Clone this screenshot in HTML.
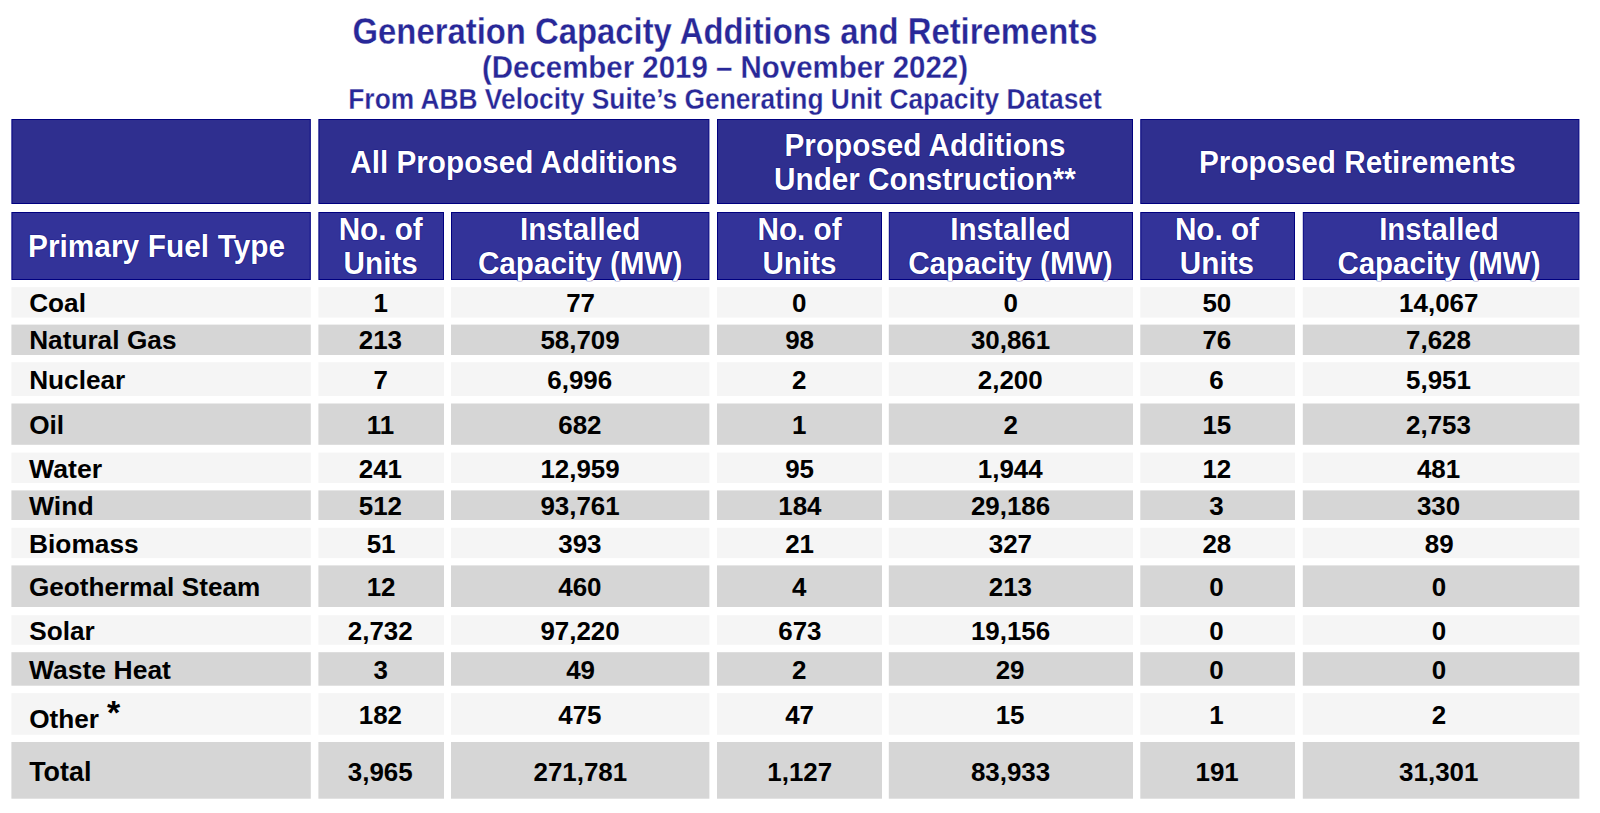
<!DOCTYPE html>
<html lang="en">
<head>
<meta charset="utf-8">
<title>Generation Capacity Additions and Retirements</title>
<style>
html,body{margin:0;padding:0;background:#fff;}
body{width:1600px;height:813px;position:relative;overflow:hidden;font-family:"Liberation Sans",sans-serif;font-weight:bold;}
#bg{position:absolute;left:0;top:0;width:1600px;height:813px;}
.t{position:absolute;left:0;width:1450px;text-align:center;color:#282898;white-space:nowrap;line-height:1;}
.t span{display:inline-block;transform-origin:50% 0;-webkit-text-stroke:0.25px #fff;}
.c{position:absolute;display:flex;align-items:center;justify-content:center;text-align:center;box-sizing:border-box;white-space:nowrap;}
.c span{display:inline-block;}
.h{color:#fff;font-size:29.7px;line-height:33.4px;text-shadow:0 0 1px #000080,0 0 1px #000080;}
.d{color:#000;font-size:26.2px;line-height:1;}
.l{justify-content:flex-start;padding-left:17.8px;}
.l span{transform-origin:left center;word-spacing:0.3px;}
.h.l{padding-left:16.6px;}
.st{font-size:34px;line-height:0;margin-left:8px;font-weight:bold;position:relative;top:-4px;}
</style>
</head>
<body>

<svg id="bg" width="1600" height="813" viewBox="0 0 1600 813">
<rect x="11.9" y="119.5" width="298.4" height="84" fill="#2f2f8f" stroke="#000080" stroke-width="1"/>
<rect x="318.9" y="119.5" width="390.0" height="84" fill="#2f2f8f" stroke="#000080" stroke-width="1"/>
<rect x="717.5" y="119.5" width="415" height="84" fill="#2f2f8f" stroke="#000080" stroke-width="1"/>
<rect x="1140.8" y="119.5" width="438.1" height="84" fill="#2f2f8f" stroke="#000080" stroke-width="1"/>
<rect x="11.9" y="212.5" width="298.4" height="67" fill="#333399" stroke="#000080" stroke-width="1"/>
<rect x="318.9" y="212.5" width="124.6" height="67" fill="#333399" stroke="#000080" stroke-width="1"/>
<rect x="451.5" y="212.5" width="257.4" height="67" fill="#333399" stroke="#000080" stroke-width="1"/>
<rect x="717.5" y="212.5" width="164" height="67" fill="#333399" stroke="#000080" stroke-width="1"/>
<rect x="889.3" y="212.5" width="243.2" height="67" fill="#333399" stroke="#000080" stroke-width="1"/>
<rect x="1140.8" y="212.5" width="153.7" height="67" fill="#333399" stroke="#000080" stroke-width="1"/>
<rect x="1303.3" y="212.5" width="275.6" height="67" fill="#333399" stroke="#000080" stroke-width="1"/>
<rect x="11.4" y="287.1" width="299.4" height="30.5" fill="#f5f5f5"/>
<rect x="318.4" y="287.1" width="125.6" height="30.5" fill="#f5f5f5"/>
<rect x="451" y="287.1" width="258.4" height="30.5" fill="#f5f5f5"/>
<rect x="717" y="287.1" width="165" height="30.5" fill="#f5f5f5"/>
<rect x="888.8" y="287.1" width="244.2" height="30.5" fill="#f5f5f5"/>
<rect x="1140.3" y="287.1" width="154.7" height="30.5" fill="#f5f5f5"/>
<rect x="1302.8" y="287.1" width="276.6" height="30.5" fill="#f5f5f5"/>
<rect x="11.4" y="324.6" width="299.4" height="30.4" fill="#d6d6d6"/>
<rect x="318.4" y="324.6" width="125.6" height="30.4" fill="#d6d6d6"/>
<rect x="451" y="324.6" width="258.4" height="30.4" fill="#d6d6d6"/>
<rect x="717" y="324.6" width="165" height="30.4" fill="#d6d6d6"/>
<rect x="888.8" y="324.6" width="244.2" height="30.4" fill="#d6d6d6"/>
<rect x="1140.3" y="324.6" width="154.7" height="30.4" fill="#d6d6d6"/>
<rect x="1302.8" y="324.6" width="276.6" height="30.4" fill="#d6d6d6"/>
<rect x="11.4" y="362.2" width="299.4" height="33.8" fill="#f5f5f5"/>
<rect x="318.4" y="362.2" width="125.6" height="33.8" fill="#f5f5f5"/>
<rect x="451" y="362.2" width="258.4" height="33.8" fill="#f5f5f5"/>
<rect x="717" y="362.2" width="165" height="33.8" fill="#f5f5f5"/>
<rect x="888.8" y="362.2" width="244.2" height="33.8" fill="#f5f5f5"/>
<rect x="1140.3" y="362.2" width="154.7" height="33.8" fill="#f5f5f5"/>
<rect x="1302.8" y="362.2" width="276.6" height="33.8" fill="#f5f5f5"/>
<rect x="11.4" y="403.5" width="299.4" height="41.3" fill="#d6d6d6"/>
<rect x="318.4" y="403.5" width="125.6" height="41.3" fill="#d6d6d6"/>
<rect x="451" y="403.5" width="258.4" height="41.3" fill="#d6d6d6"/>
<rect x="717" y="403.5" width="165" height="41.3" fill="#d6d6d6"/>
<rect x="888.8" y="403.5" width="244.2" height="41.3" fill="#d6d6d6"/>
<rect x="1140.3" y="403.5" width="154.7" height="41.3" fill="#d6d6d6"/>
<rect x="1302.8" y="403.5" width="276.6" height="41.3" fill="#d6d6d6"/>
<rect x="11.4" y="452.6" width="299.4" height="30.4" fill="#f5f5f5"/>
<rect x="318.4" y="452.6" width="125.6" height="30.4" fill="#f5f5f5"/>
<rect x="451" y="452.6" width="258.4" height="30.4" fill="#f5f5f5"/>
<rect x="717" y="452.6" width="165" height="30.4" fill="#f5f5f5"/>
<rect x="888.8" y="452.6" width="244.2" height="30.4" fill="#f5f5f5"/>
<rect x="1140.3" y="452.6" width="154.7" height="30.4" fill="#f5f5f5"/>
<rect x="1302.8" y="452.6" width="276.6" height="30.4" fill="#f5f5f5"/>
<rect x="11.4" y="490.4" width="299.4" height="29.6" fill="#d6d6d6"/>
<rect x="318.4" y="490.4" width="125.6" height="29.6" fill="#d6d6d6"/>
<rect x="451" y="490.4" width="258.4" height="29.6" fill="#d6d6d6"/>
<rect x="717" y="490.4" width="165" height="29.6" fill="#d6d6d6"/>
<rect x="888.8" y="490.4" width="244.2" height="29.6" fill="#d6d6d6"/>
<rect x="1140.3" y="490.4" width="154.7" height="29.6" fill="#d6d6d6"/>
<rect x="1302.8" y="490.4" width="276.6" height="29.6" fill="#d6d6d6"/>
<rect x="11.4" y="527.8" width="299.4" height="30.3" fill="#f5f5f5"/>
<rect x="318.4" y="527.8" width="125.6" height="30.3" fill="#f5f5f5"/>
<rect x="451" y="527.8" width="258.4" height="30.3" fill="#f5f5f5"/>
<rect x="717" y="527.8" width="165" height="30.3" fill="#f5f5f5"/>
<rect x="888.8" y="527.8" width="244.2" height="30.3" fill="#f5f5f5"/>
<rect x="1140.3" y="527.8" width="154.7" height="30.3" fill="#f5f5f5"/>
<rect x="1302.8" y="527.8" width="276.6" height="30.3" fill="#f5f5f5"/>
<rect x="11.4" y="565.4" width="299.4" height="41.6" fill="#d6d6d6"/>
<rect x="318.4" y="565.4" width="125.6" height="41.6" fill="#d6d6d6"/>
<rect x="451" y="565.4" width="258.4" height="41.6" fill="#d6d6d6"/>
<rect x="717" y="565.4" width="165" height="41.6" fill="#d6d6d6"/>
<rect x="888.8" y="565.4" width="244.2" height="41.6" fill="#d6d6d6"/>
<rect x="1140.3" y="565.4" width="154.7" height="41.6" fill="#d6d6d6"/>
<rect x="1302.8" y="565.4" width="276.6" height="41.6" fill="#d6d6d6"/>
<rect x="11.4" y="615.2" width="299.4" height="29.6" fill="#f5f5f5"/>
<rect x="318.4" y="615.2" width="125.6" height="29.6" fill="#f5f5f5"/>
<rect x="451" y="615.2" width="258.4" height="29.6" fill="#f5f5f5"/>
<rect x="717" y="615.2" width="165" height="29.6" fill="#f5f5f5"/>
<rect x="888.8" y="615.2" width="244.2" height="29.6" fill="#f5f5f5"/>
<rect x="1140.3" y="615.2" width="154.7" height="29.6" fill="#f5f5f5"/>
<rect x="1302.8" y="615.2" width="276.6" height="29.6" fill="#f5f5f5"/>
<rect x="11.4" y="652.2" width="299.4" height="33.5" fill="#d6d6d6"/>
<rect x="318.4" y="652.2" width="125.6" height="33.5" fill="#d6d6d6"/>
<rect x="451" y="652.2" width="258.4" height="33.5" fill="#d6d6d6"/>
<rect x="717" y="652.2" width="165" height="33.5" fill="#d6d6d6"/>
<rect x="888.8" y="652.2" width="244.2" height="33.5" fill="#d6d6d6"/>
<rect x="1140.3" y="652.2" width="154.7" height="33.5" fill="#d6d6d6"/>
<rect x="1302.8" y="652.2" width="276.6" height="33.5" fill="#d6d6d6"/>
<rect x="11.4" y="693.1" width="299.4" height="41.7" fill="#f5f5f5"/>
<rect x="318.4" y="693.1" width="125.6" height="41.7" fill="#f5f5f5"/>
<rect x="451" y="693.1" width="258.4" height="41.7" fill="#f5f5f5"/>
<rect x="717" y="693.1" width="165" height="41.7" fill="#f5f5f5"/>
<rect x="888.8" y="693.1" width="244.2" height="41.7" fill="#f5f5f5"/>
<rect x="1140.3" y="693.1" width="154.7" height="41.7" fill="#f5f5f5"/>
<rect x="1302.8" y="693.1" width="276.6" height="41.7" fill="#f5f5f5"/>
<rect x="11.4" y="742" width="299.4" height="56.7" fill="#d6d6d6"/>
<rect x="318.4" y="742" width="125.6" height="56.7" fill="#d6d6d6"/>
<rect x="451" y="742" width="258.4" height="56.7" fill="#d6d6d6"/>
<rect x="717" y="742" width="165" height="56.7" fill="#d6d6d6"/>
<rect x="888.8" y="742" width="244.2" height="56.7" fill="#d6d6d6"/>
<rect x="1140.3" y="742" width="154.7" height="56.7" fill="#d6d6d6"/>
<rect x="1302.8" y="742" width="276.6" height="56.7" fill="#d6d6d6"/>
</svg>
<div class="t" style="top:14.2px;font-size:32.85px;"><span style="transform:scaleY(1.1)">Generation Capacity Additions and Retirements</span></div>
<div class="t" style="top:52.1px;font-size:29.45px;"><span style="transform:scaleY(1.048)">(December 2019 – November 2022)</span></div>
<div class="t" style="top:85px;font-size:26.35px;"><span style="transform:scaleY(1.09)">From ABB Velocity Suite’s Generating Unit Capacity Dataset</span></div>
<div class="c h" style="left:318.4px;top:119px;width:391.0px;height:85px;"><span style="transform:translate(0px,0.5px) scale(1,1.038)">All Proposed Additions</span></div>
<div class="c h" style="left:717px;top:119px;width:416px;height:85px;"><span style="transform:translate(0px,1.4px) scale(1,1.038)">Proposed Additions<br>Under Construction**</span></div>
<div class="c h" style="left:1140.3px;top:119px;width:439.1px;height:85px;"><span style="transform:translate(-2.4px,0.5px) scale(1,1.038)">Proposed Retirements</span></div>
<div class="c h l" style="left:11.4px;top:212px;width:299.4px;height:68px;"><span style="transform:translateY(0.3px) scale(1.005,1.038)">Primary Fuel Type</span></div>
<div class="c h" style="left:318.4px;top:212px;width:125.6px;height:68px;"><span style="transform:translate(-0.5px,-0.2px) scale(1,1.038)">No. of<br>Units</span></div>
<div class="c h" style="left:451px;top:212px;width:258.4px;height:68px;"><span style="transform:translate(0px,-0.2px) scale(1,1.038)">Installed<br>Capacity (MW)</span></div>
<div class="c h" style="left:717px;top:212px;width:165px;height:68px;"><span style="transform:translate(0px,-0.2px) scale(1,1.038)">No. of<br>Units</span></div>
<div class="c h" style="left:888.8px;top:212px;width:244.2px;height:68px;"><span style="transform:translate(-0.5px,-0.2px) scale(1,1.038)">Installed<br>Capacity (MW)</span></div>
<div class="c h" style="left:1140.3px;top:212px;width:154.7px;height:68px;"><span style="transform:translate(-0.7px,-0.2px) scale(1,1.038)">No. of<br>Units</span></div>
<div class="c h" style="left:1302.8px;top:212px;width:276.6px;height:68px;"><span style="transform:translate(-2.3px,-0.2px) scale(0.993,1.038)">Installed<br>Capacity (MW)</span></div>
<div class="c d l" style="left:11.4px;top:287.1px;width:299.4px;height:30.5px;"><span style="transform:translateY(1.2px) scaleX(1.0)">Coal</span></div>
<div class="c d" style="left:318.4px;top:287.1px;width:125.6px;height:30.5px;"><span style="transform:translate(-0.5px,1.2px) scaleX(0.99)">1</span></div>
<div class="c d" style="left:451px;top:287.1px;width:258.4px;height:30.5px;"><span style="transform:translate(0px,1.2px) scaleX(0.99)">77</span></div>
<div class="c d" style="left:717px;top:287.1px;width:165px;height:30.5px;"><span style="transform:translate(0px,1.2px) scaleX(0.99)">0</span></div>
<div class="c d" style="left:888.8px;top:287.1px;width:244.2px;height:30.5px;"><span style="transform:translate(-0.5px,1.2px) scaleX(0.99)">0</span></div>
<div class="c d" style="left:1140.3px;top:287.1px;width:154.7px;height:30.5px;"><span style="transform:translate(-0.7px,1.2px) scaleX(0.99)">50</span></div>
<div class="c d" style="left:1302.8px;top:287.1px;width:276.6px;height:30.5px;"><span style="transform:translate(-2.3px,1.2px) scaleX(0.99)">14,067</span></div>
<div class="c d l" style="left:11.4px;top:324.6px;width:299.4px;height:30.4px;"><span style="transform:translateY(0.1px) scaleX(1.0)">Natural Gas</span></div>
<div class="c d" style="left:318.4px;top:324.6px;width:125.6px;height:30.4px;"><span style="transform:translate(-0.5px,0.1px) scaleX(0.99)">213</span></div>
<div class="c d" style="left:451px;top:324.6px;width:258.4px;height:30.4px;"><span style="transform:translate(0px,0.1px) scaleX(0.99)">58,709</span></div>
<div class="c d" style="left:717px;top:324.6px;width:165px;height:30.4px;"><span style="transform:translate(0px,0.1px) scaleX(0.99)">98</span></div>
<div class="c d" style="left:888.8px;top:324.6px;width:244.2px;height:30.4px;"><span style="transform:translate(-0.5px,0.1px) scaleX(0.99)">30,861</span></div>
<div class="c d" style="left:1140.3px;top:324.6px;width:154.7px;height:30.4px;"><span style="transform:translate(-0.7px,0.1px) scaleX(0.99)">76</span></div>
<div class="c d" style="left:1302.8px;top:324.6px;width:276.6px;height:30.4px;"><span style="transform:translate(-2.3px,0.1px) scaleX(0.99)">7,628</span></div>
<div class="c d l" style="left:11.4px;top:362.2px;width:299.4px;height:33.8px;"><span style="transform:translateY(1.1px) scaleX(1.0)">Nuclear</span></div>
<div class="c d" style="left:318.4px;top:362.2px;width:125.6px;height:33.8px;"><span style="transform:translate(-0.5px,1.1px) scaleX(0.99)">7</span></div>
<div class="c d" style="left:451px;top:362.2px;width:258.4px;height:33.8px;"><span style="transform:translate(0px,1.1px) scaleX(0.99)">6,996</span></div>
<div class="c d" style="left:717px;top:362.2px;width:165px;height:33.8px;"><span style="transform:translate(0px,1.1px) scaleX(0.99)">2</span></div>
<div class="c d" style="left:888.8px;top:362.2px;width:244.2px;height:33.8px;"><span style="transform:translate(-0.5px,1.1px) scaleX(0.99)">2,200</span></div>
<div class="c d" style="left:1140.3px;top:362.2px;width:154.7px;height:33.8px;"><span style="transform:translate(-0.7px,1.1px) scaleX(0.99)">6</span></div>
<div class="c d" style="left:1302.8px;top:362.2px;width:276.6px;height:33.8px;"><span style="transform:translate(-2.3px,1.1px) scaleX(0.99)">5,951</span></div>
<div class="c d l" style="left:11.4px;top:403.5px;width:299.4px;height:41.3px;"><span style="transform:translateY(0.9px) scaleX(1.0)">Oil</span></div>
<div class="c d" style="left:318.4px;top:403.5px;width:125.6px;height:41.3px;"><span style="transform:translate(-0.5px,0.9px) scaleX(0.99)">11</span></div>
<div class="c d" style="left:451px;top:403.5px;width:258.4px;height:41.3px;"><span style="transform:translate(0px,0.9px) scaleX(0.99)">682</span></div>
<div class="c d" style="left:717px;top:403.5px;width:165px;height:41.3px;"><span style="transform:translate(0px,0.9px) scaleX(0.99)">1</span></div>
<div class="c d" style="left:888.8px;top:403.5px;width:244.2px;height:41.3px;"><span style="transform:translate(-0.5px,0.9px) scaleX(0.99)">2</span></div>
<div class="c d" style="left:1140.3px;top:403.5px;width:154.7px;height:41.3px;"><span style="transform:translate(-0.7px,0.9px) scaleX(0.99)">15</span></div>
<div class="c d" style="left:1302.8px;top:403.5px;width:276.6px;height:41.3px;"><span style="transform:translate(-2.3px,0.9px) scaleX(0.99)">2,753</span></div>
<div class="c d l" style="left:11.4px;top:452.6px;width:299.4px;height:30.4px;"><span style="transform:translateY(1.05px) scaleX(1.018)">Water</span></div>
<div class="c d" style="left:318.4px;top:452.6px;width:125.6px;height:30.4px;"><span style="transform:translate(-0.5px,1.05px) scaleX(0.99)">241</span></div>
<div class="c d" style="left:451px;top:452.6px;width:258.4px;height:30.4px;"><span style="transform:translate(0px,1.05px) scaleX(0.99)">12,959</span></div>
<div class="c d" style="left:717px;top:452.6px;width:165px;height:30.4px;"><span style="transform:translate(0px,1.05px) scaleX(0.99)">95</span></div>
<div class="c d" style="left:888.8px;top:452.6px;width:244.2px;height:30.4px;"><span style="transform:translate(-0.5px,1.05px) scaleX(0.99)">1,944</span></div>
<div class="c d" style="left:1140.3px;top:452.6px;width:154.7px;height:30.4px;"><span style="transform:translate(-0.7px,1.05px) scaleX(0.99)">12</span></div>
<div class="c d" style="left:1302.8px;top:452.6px;width:276.6px;height:30.4px;"><span style="transform:translate(-2.3px,1.05px) scaleX(0.99)">481</span></div>
<div class="c d l" style="left:11.4px;top:490.4px;width:299.4px;height:29.6px;"><span style="transform:translateY(1.3px) scaleX(1.015)">Wind</span></div>
<div class="c d" style="left:318.4px;top:490.4px;width:125.6px;height:29.6px;"><span style="transform:translate(-0.5px,1.3px) scaleX(0.99)">512</span></div>
<div class="c d" style="left:451px;top:490.4px;width:258.4px;height:29.6px;"><span style="transform:translate(0px,1.3px) scaleX(0.99)">93,761</span></div>
<div class="c d" style="left:717px;top:490.4px;width:165px;height:29.6px;"><span style="transform:translate(0px,1.3px) scaleX(0.99)">184</span></div>
<div class="c d" style="left:888.8px;top:490.4px;width:244.2px;height:29.6px;"><span style="transform:translate(-0.5px,1.3px) scaleX(0.99)">29,186</span></div>
<div class="c d" style="left:1140.3px;top:490.4px;width:154.7px;height:29.6px;"><span style="transform:translate(-0.7px,1.3px) scaleX(0.99)">3</span></div>
<div class="c d" style="left:1302.8px;top:490.4px;width:276.6px;height:29.6px;"><span style="transform:translate(-2.3px,1.3px) scaleX(0.99)">330</span></div>
<div class="c d l" style="left:11.4px;top:527.8px;width:299.4px;height:30.3px;"><span style="transform:translateY(1.05px) scaleX(1.005)">Biomass</span></div>
<div class="c d" style="left:318.4px;top:527.8px;width:125.6px;height:30.3px;"><span style="transform:translate(-0.5px,1.05px) scaleX(0.99)">51</span></div>
<div class="c d" style="left:451px;top:527.8px;width:258.4px;height:30.3px;"><span style="transform:translate(0px,1.05px) scaleX(0.99)">393</span></div>
<div class="c d" style="left:717px;top:527.8px;width:165px;height:30.3px;"><span style="transform:translate(0px,1.05px) scaleX(0.99)">21</span></div>
<div class="c d" style="left:888.8px;top:527.8px;width:244.2px;height:30.3px;"><span style="transform:translate(-0.5px,1.05px) scaleX(0.99)">327</span></div>
<div class="c d" style="left:1140.3px;top:527.8px;width:154.7px;height:30.3px;"><span style="transform:translate(-0.7px,1.05px) scaleX(0.99)">28</span></div>
<div class="c d" style="left:1302.8px;top:527.8px;width:276.6px;height:30.3px;"><span style="transform:translate(-2.3px,1.05px) scaleX(0.99)">89</span></div>
<div class="c d l" style="left:11.4px;top:565.4px;width:299.4px;height:41.6px;"><span style="transform:translateY(1.3px) scaleX(0.998)">Geothermal Steam</span></div>
<div class="c d" style="left:318.4px;top:565.4px;width:125.6px;height:41.6px;"><span style="transform:translate(-0.5px,1.3px) scaleX(0.99)">12</span></div>
<div class="c d" style="left:451px;top:565.4px;width:258.4px;height:41.6px;"><span style="transform:translate(0px,1.3px) scaleX(0.99)">460</span></div>
<div class="c d" style="left:717px;top:565.4px;width:165px;height:41.6px;"><span style="transform:translate(0px,1.3px) scaleX(0.99)">4</span></div>
<div class="c d" style="left:888.8px;top:565.4px;width:244.2px;height:41.6px;"><span style="transform:translate(-0.5px,1.3px) scaleX(0.99)">213</span></div>
<div class="c d" style="left:1140.3px;top:565.4px;width:154.7px;height:41.6px;"><span style="transform:translate(-0.7px,1.3px) scaleX(0.99)">0</span></div>
<div class="c d" style="left:1302.8px;top:565.4px;width:276.6px;height:41.6px;"><span style="transform:translate(-2.3px,1.3px) scaleX(0.99)">0</span></div>
<div class="c d l" style="left:11.4px;top:615.2px;width:299.4px;height:29.6px;"><span style="transform:translateY(0.9px) scaleX(1.0)">Solar</span></div>
<div class="c d" style="left:318.4px;top:615.2px;width:125.6px;height:29.6px;"><span style="transform:translate(-0.5px,0.9px) scaleX(0.99)">2,732</span></div>
<div class="c d" style="left:451px;top:615.2px;width:258.4px;height:29.6px;"><span style="transform:translate(0px,0.9px) scaleX(0.99)">97,220</span></div>
<div class="c d" style="left:717px;top:615.2px;width:165px;height:29.6px;"><span style="transform:translate(0px,0.9px) scaleX(0.99)">673</span></div>
<div class="c d" style="left:888.8px;top:615.2px;width:244.2px;height:29.6px;"><span style="transform:translate(-0.5px,0.9px) scaleX(0.99)">19,156</span></div>
<div class="c d" style="left:1140.3px;top:615.2px;width:154.7px;height:29.6px;"><span style="transform:translate(-0.7px,0.9px) scaleX(0.99)">0</span></div>
<div class="c d" style="left:1302.8px;top:615.2px;width:276.6px;height:29.6px;"><span style="transform:translate(-2.3px,0.9px) scaleX(0.99)">0</span></div>
<div class="c d l" style="left:11.4px;top:652.2px;width:299.4px;height:33.5px;"><span style="transform:translateY(0.8px) scaleX(1.01)">Waste Heat</span></div>
<div class="c d" style="left:318.4px;top:652.2px;width:125.6px;height:33.5px;"><span style="transform:translate(-0.5px,0.8px) scaleX(0.99)">3</span></div>
<div class="c d" style="left:451px;top:652.2px;width:258.4px;height:33.5px;"><span style="transform:translate(0px,0.8px) scaleX(0.99)">49</span></div>
<div class="c d" style="left:717px;top:652.2px;width:165px;height:33.5px;"><span style="transform:translate(0px,0.8px) scaleX(0.99)">2</span></div>
<div class="c d" style="left:888.8px;top:652.2px;width:244.2px;height:33.5px;"><span style="transform:translate(-0.5px,0.8px) scaleX(0.99)">29</span></div>
<div class="c d" style="left:1140.3px;top:652.2px;width:154.7px;height:33.5px;"><span style="transform:translate(-0.7px,0.8px) scaleX(0.99)">0</span></div>
<div class="c d" style="left:1302.8px;top:652.2px;width:276.6px;height:33.5px;"><span style="transform:translate(-2.3px,0.8px) scaleX(0.99)">0</span></div>
<div class="c d l" style="left:11.4px;top:693.1px;width:299.4px;height:41.7px;"><span style="transform:translateY(5.2px) scaleX(1.0)">Other<b class="st">*</b></span></div>
<div class="c d" style="left:318.4px;top:693.1px;width:125.6px;height:41.7px;"><span style="transform:translate(-0.5px,0.8px) scaleX(0.99)">182</span></div>
<div class="c d" style="left:451px;top:693.1px;width:258.4px;height:41.7px;"><span style="transform:translate(0px,0.8px) scaleX(0.99)">475</span></div>
<div class="c d" style="left:717px;top:693.1px;width:165px;height:41.7px;"><span style="transform:translate(0px,0.8px) scaleX(0.99)">47</span></div>
<div class="c d" style="left:888.8px;top:693.1px;width:244.2px;height:41.7px;"><span style="transform:translate(-0.5px,0.8px) scaleX(0.99)">15</span></div>
<div class="c d" style="left:1140.3px;top:693.1px;width:154.7px;height:41.7px;"><span style="transform:translate(-0.7px,0.8px) scaleX(0.99)">1</span></div>
<div class="c d" style="left:1302.8px;top:693.1px;width:276.6px;height:41.7px;"><span style="transform:translate(-2.3px,0.8px) scaleX(0.99)">2</span></div>
<div class="c d l" style="left:11.4px;top:742px;width:299.4px;height:56.7px;font-size:26.9px;"><span style="transform:translateY(1.7px) scaleX(1.0)">Total</span></div>
<div class="c d" style="left:318.4px;top:742px;width:125.6px;height:56.7px;"><span style="transform:translate(-0.5px,1.7px) scaleX(0.99)">3,965</span></div>
<div class="c d" style="left:451px;top:742px;width:258.4px;height:56.7px;"><span style="transform:translate(0px,1.7px) scaleX(0.99)">271,781</span></div>
<div class="c d" style="left:717px;top:742px;width:165px;height:56.7px;"><span style="transform:translate(0px,1.7px) scaleX(0.99)">1,127</span></div>
<div class="c d" style="left:888.8px;top:742px;width:244.2px;height:56.7px;"><span style="transform:translate(-0.5px,1.7px) scaleX(0.99)">83,933</span></div>
<div class="c d" style="left:1140.3px;top:742px;width:154.7px;height:56.7px;"><span style="transform:translate(-0.7px,1.7px) scaleX(0.99)">191</span></div>
<div class="c d" style="left:1302.8px;top:742px;width:276.6px;height:56.7px;"><span style="transform:translate(-2.3px,1.7px) scaleX(0.99)">31,301</span></div>
</body>
</html>
